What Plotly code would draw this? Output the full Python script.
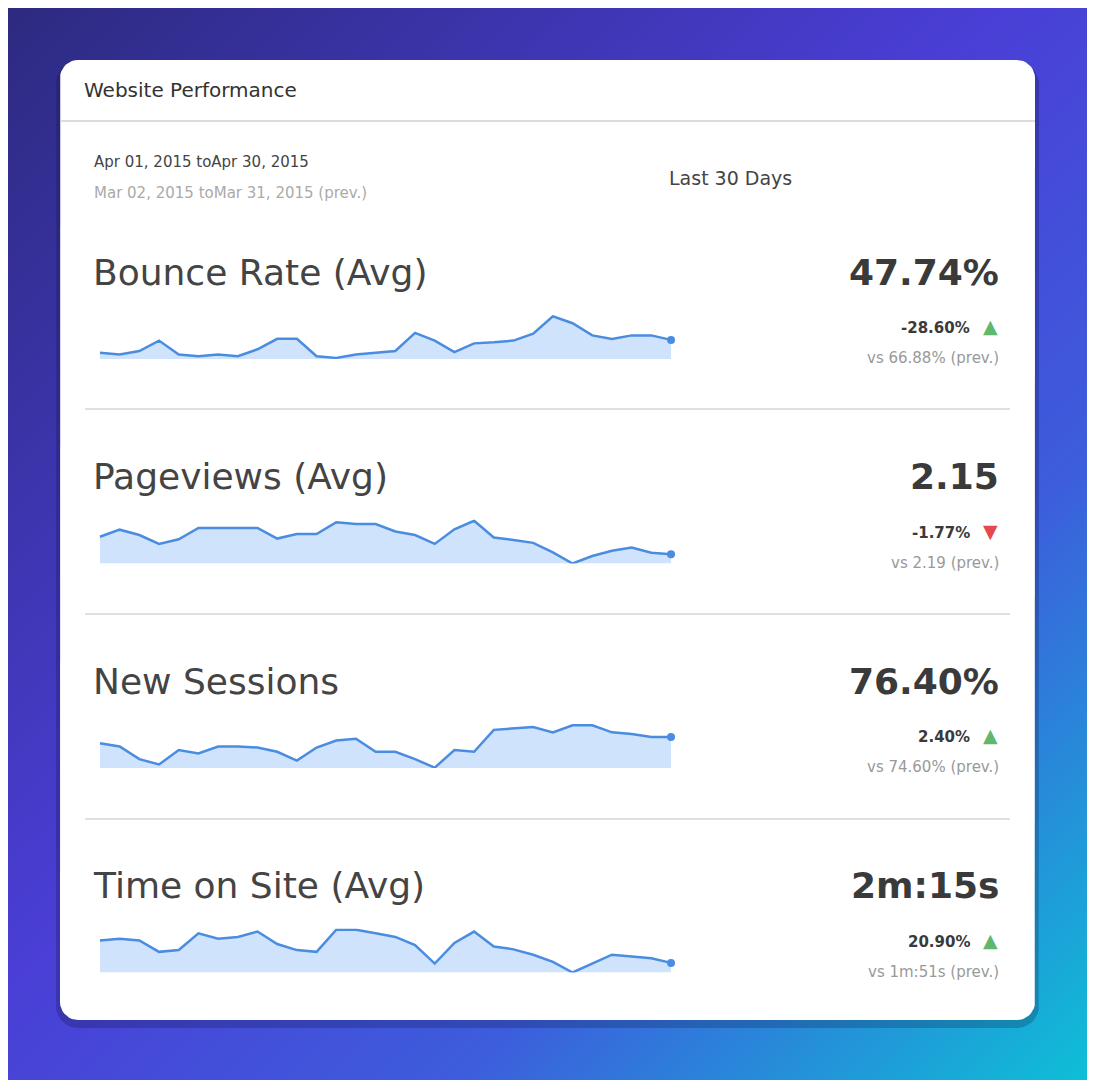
import math
import plotly.graph_objects as go

# sparkline values (relative units, 30 days)
bounce = [18, 13, 23, 53, 13, 8, 13, 8, 28, 58, 58, 8, 3, 13, 18, 23, 75, 53, 20, 45,
          48, 53, 73, 123, 103, 68, 58, 68, 68, 55]
pageviews = [75, 95, 80, 55, 68, 100, 100, 100, 100, 70, 83, 83, 116, 111, 111, 90, 80, 55, 96, 120,
             73, 66, 58, 31, 0, 21, 36, 45, 30, 26]
new_sessions = [70, 61, 25, 10, 51, 41, 61, 61, 58, 46, 21, 58, 78, 83, 46, 46, 25, 1, 51, 46,
                108, 111, 116, 101, 121, 121, 101, 96, 88, 88]
time_on_site = [90, 95, 90, 58, 63, 110, 95, 100, 115, 80, 63, 58, 120, 120, 110, 100, 77, 25, 83, 115,
                73, 65, 50, 30, 0, 25, 50, 45, 40, 27]

titles = ["Bounce Rate (Avg)", "Pageviews (Avg)", "New Sessions", "Time on Site (Avg)"]
values = ["47.74%", "2.15", "76.40%", "2m:15s"]
changes = ["-28.60%", "-1.77%", "2.40%", "20.90%"]
ups = [True, False, True, True]
prevs = ["vs 66.88% (prev.)", "vs 2.19 (prev.)", "vs 74.60% (prev.)", "vs 1m:51s (prev.)"]
series = [bounce, pageviews, new_sessions, time_on_site]

W, H = 1095, 1080
OFF = 8  # page body margin shifts the plot, compensate
FONT = "DejaVu Sans"
fig = go.Figure()

# gradient background
fig.add_trace(go.Heatmap(x=[0, W], y=[0, H], z=[[0, 0.5], [0.5, 1]], zsmooth="best",
                         colorscale=[[0, "#2d2a80"], [0.45, "#4a3ed6"], [0.7, "#3d5ddc"], [1, "#0cc3d6"]],
                         showscale=False, hoverinfo="skip", xaxis="x", yaxis="y"))


def rounded(x0, y0, x1, y1, r):
    xs, ys = [], []
    for cx, cy, a0 in [(x1 - r, y0 + r, -90), (x1 - r, y1 - r, 0), (x0 + r, y1 - r, 90), (x0 + r, y0 + r, 180)]:
        for k in range(10):
            a = math.radians(a0 + k * 10)
            xs.append(cx + r * math.cos(a) - OFF)
            ys.append(cy + r * math.sin(a) - OFF)
    xs.append(xs[0]); ys.append(ys[0])
    return xs, ys


for box, col in [((56, 62, 1039, 1028, 22), "rgba(10,10,40,0.22)"), ((60, 60, 1035, 1020, 18), "white")]:
    bx, by = rounded(*box)
    fig.add_trace(go.Scatter(x=bx, y=by, mode="lines", fill="toself", fillcolor=col, line_width=0,
                             hoverinfo="skip", xaxis="x", yaxis="y"))

shapes = [dict(type="line", x0=60 - OFF, x1=1035 - OFF, y0=121 - OFF, y1=121 - OFF, xref="x", yref="y",
               line=dict(color="#d0d0d0", width=1.5))]
for ys in [409, 614, 819]:
    shapes.append(dict(type="line", x0=85 - OFF, x1=1010 - OFF, y0=ys - OFF, y1=ys - OFF, xref="x", yref="y",
                       line=dict(color="#d6d6d6", width=1.5)))

ann = []
def txt(x, y, s, size, color, anchor="left", bold=False):
    ann.append(dict(x=x - OFF, y=y - OFF, xref="x", yref="y", text=f"<b>{s}</b>" if bold else s,
                    showarrow=False, xanchor=anchor, yanchor="middle",
                    font=dict(family=FONT, size=size, color=color)))

txt(82, 90, "Website Performance", 20, "#333333")
txt(92, 162, "Apr 01, 2015 toApr 30, 2015", 15, "#444444")
txt(92, 193, "Mar 02, 2015 toMar 31, 2015 (prev.)", 15, "#aaaaaa")
txt(730, 178, "Last 30 Days", 19, "#444444", anchor="center")

layout_axes = {}
for i, (t, v, c, up, p, s) in enumerate(zip(titles, values, changes, ups, prevs, series)):
    ty = 272 + i * 204.5
    txt(91, ty, t, 36, "#444444")
    txt(1001, ty, v, 36, "#3a3a3a", anchor="right", bold=True)
    txt(972, ty + 56, c, 15, "#3a3a3a", anchor="right", bold=True)
    txt(990, ty + 54, "▲" if up else "▼", 19, "#5fb86b" if up else "#e5484d", anchor="center")
    txt(1001, ty + 86, p, 15, "#999999", anchor="right")

    n = i + 2
    top, bot = ty + 43 - OFF, ty + 87 - OFF
    layout_axes[f"xaxis{n}"] = dict(domain=[(98 - OFF) / W, (673 - OFF) / W], range=[-0.1, len(s) - 0.9],
                                    visible=False, anchor=f"y{n}")
    layout_axes[f"yaxis{n}"] = dict(domain=[1 - bot / H, 1 - top / H], range=[0, max(s) * 1.03],
                                    visible=False, anchor=f"x{n}")
    xs = list(range(len(s)))
    fig.add_trace(go.Scatter(x=xs, y=s, mode="lines", fill="tozeroy", fillcolor="rgba(120,175,245,0.35)",
                             line=dict(color="#4a8de0", width=2.5), xaxis=f"x{n}", yaxis=f"y{n}",
                             hoverinfo="skip", cliponaxis=False))
    fig.add_trace(go.Scatter(x=[xs[-1]], y=[s[-1]], mode="markers", marker=dict(color="#4a8de0", size=8),
                             xaxis=f"x{n}", yaxis=f"y{n}", hoverinfo="skip", cliponaxis=False))

fig.update_layout(
    width=W, height=H, margin=dict(l=0, r=0, t=0, b=0), showlegend=False,
    paper_bgcolor="#4a3ed6", plot_bgcolor="rgba(0,0,0,0)",
    xaxis=dict(domain=[0, 1], range=[0, W], visible=False, fixedrange=True),
    yaxis=dict(domain=[0, 1], range=[H, 0], visible=False, fixedrange=True),
    shapes=shapes, annotations=ann, **layout_axes,
)

fig.write_html("out.html")
